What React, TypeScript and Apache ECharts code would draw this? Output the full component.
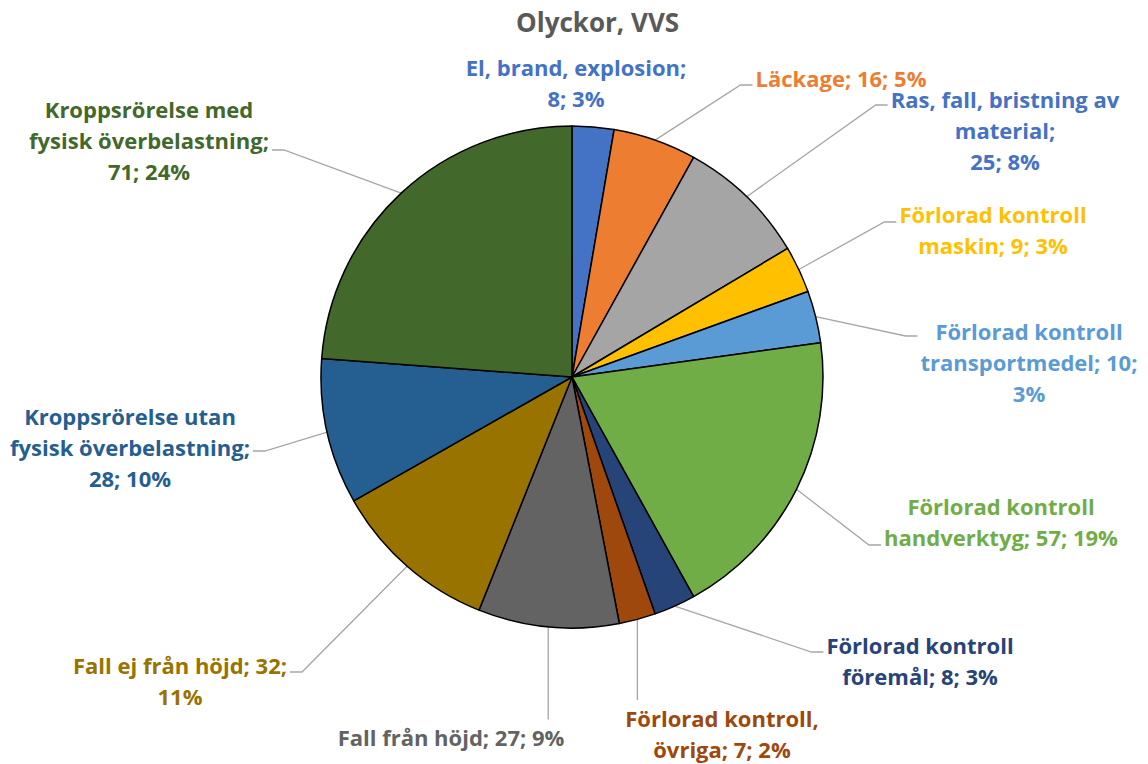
import React, { useEffect, useRef } from 'react';
import * as echarts from 'echarts';

// ---- data ----
const categories = [
  'El, brand, explosion',
  'Läckage',
  'Ras, fall, bristning av material',
  'Förlorad kontroll maskin',
  'Förlorad kontroll transportmedel',
  'Förlorad kontroll handverktyg',
  'Förlorad kontroll föremål',
  'Förlorad kontroll, övriga',
  'Fall från höjd',
  'Fall ej från höjd',
  'Kroppsrörelse utan fysisk överbelastning',
  'Kroppsrörelse med fysisk överbelastning',
];
const counts = [8, 16, 25, 9, 10, 57, 8, 7, 27, 32, 28, 71];
const titleText = 'Olyckor, VVS';

// ---- styling / layout ----
const sliceColors = ['#4472C4', '#ED7D31', '#A5A5A5', '#FFC000', '#5B9BD5', '#70AD47', '#264478', '#9E480E', '#636363', '#997300', '#255E91', '#43682B'];
const labelColors = ['#4472C4', '#ED7D31', '#4472C4', '#FFC000', '#5B9BD5', '#70AD47', '#264478', '#9E480E', '#636363', '#997300', '#255E91', '#43682B'];
// line break after n-th word of "name; value; pct%"
const lineBreaks = [[3], [], [4, 5], [2], [2, 4], [2], [2], [2], [], [5], [2, 4], [2, 4]];
const labelSpots: any[] = [
  { x: 576, y: 82, side: 'none' },
  { x: 841, y: 78, side: 'left', at: 85 },
  { x: 1005, y: 130, side: 'left', at: 105 },
  { x: 993, y: 229, side: 'left', at: 222 },
  { x: 1029, y: 362, side: 'left', at: 336 },
  { x: 1001, y: 521, side: 'left', at: 545 },
  { x: 920, y: 660, side: 'left', at: 652 },
  { x: 722, y: 733, side: 'top' },
  { x: 451, y: 737, side: 'top' },
  { x: 180, y: 680, side: 'right', at: 672 },
  { x: 130, y: 447, side: 'right', at: 451 },
  { x: 149, y: 140, side: 'right', at: 150 },
];

const FONT = '"Open Sans", Lato, sans-serif';

function wrap(text: string, breaks: number[]) {
  const words = text.split(' ');
  let out = '';
  words.forEach((w, i) => {
    out += w;
    if (i < words.length - 1) out += breaks.includes(i + 1) ? '\n' : ' ';
  });
  return out;
}

export default function App() {
  const ref = useRef<HTMLDivElement>(null);
  useEffect(() => {
    if (!ref.current) return;
    const chart = echarts.init(ref.current, undefined, { renderer: 'svg' });
    const data = categories.map((name, i) => ({
      name,
      value: counts[i],
      itemStyle: { color: sliceColors[i] },
      label: { color: labelColors[i] },
      labelLine: { show: labelSpots[i].side !== 'none' },
    }));
    chart.setOption({
      animation: false,
      backgroundColor: '#ffffff',
      title: {
        text: titleText,
        left: 511,
        top: 4,
        textStyle: { fontFamily: FONT, fontWeight: 'bold', fontSize: 26, color: '#595959' },
      },
      series: [
        {
          type: 'pie',
          center: [572, 377],
          radius: 251,
          startAngle: 90,
          clockwise: true,
          percentPrecision: 0,
          avoidLabelOverlap: false,
          data,
          itemStyle: { borderColor: '#000000', borderWidth: 1.5 },
          emphasis: { disabled: true },
          label: {
            show: true,
            position: 'outside',
            fontFamily: FONT,
            fontWeight: 'bold',
            fontSize: 22,
            lineHeight: 31,
            align: 'center',
            formatter: (p: any) => wrap(`${p.name}; ${p.value}; ${p.percent}%`, lineBreaks[p.dataIndex]),
          },
          labelLine: {
            show: true,
            length: 20,
            length2: 12,
            lineStyle: { color: '#A6A6A6', width: 1.3 },
          },
          labelLayout: (p: any) => {
            const s = labelSpots[p.dataIndex];
            const w = p.labelRect.width;
            const h = p.labelRect.height;
            const res: any = { x: s.x, y: s.y, align: 'center', verticalAlign: 'middle' };
            const a = p.labelLinePoints && p.labelLinePoints[0];
            if (a) {
              let pts: number[][] | null = null;
              if (s.side === 'left') {
                const ex = s.x - w / 2 - 3;
                pts = [a, [ex - 12, s.at], [ex, s.at]];
              } else if (s.side === 'right') {
                const ex = s.x + w / 2 + 3;
                pts = [a, [ex + 12, s.at], [ex, s.at]];
              } else if (s.side === 'top') {
                const ey = s.y - h / 2 - 2;
                pts = [a, [a[0], ey - 1], [a[0], ey]];
              }
              if (pts) res.labelLinePoints = pts;
            }
            return res;
          },
        },
      ],
    });
    return () => chart.dispose();
  }, []);
  return (
    <div
      ref={ref}
      style={{ position: 'fixed', left: 0, top: 0, width: 1148, height: 764, background: '#fff' }}
    />
  );
}
